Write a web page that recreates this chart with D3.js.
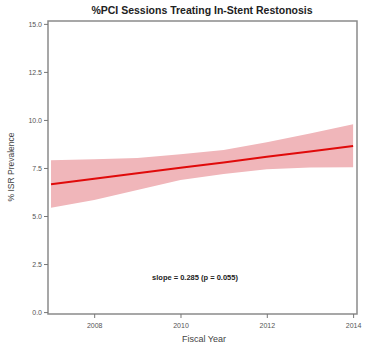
<!DOCTYPE html>
<html><head><meta charset="utf-8">
<script src="https://cdn.jsdelivr.net/npm/d3@7/dist/d3.min.js"></script>
<style>body{margin:0;background:#fff}</style>
</head><body>
<script>
const years = [2007, 2008, 2009, 2010, 2011, 2012, 2013, 2014];
const fitted = [6.65, 6.94, 7.22, 7.51, 7.79, 8.08, 8.36, 8.65];
const upper = [7.90, 7.95, 8.02, 8.21, 8.44, 8.84, 9.30, 9.78];
const lower = [5.43, 5.83, 6.35, 6.88, 7.19, 7.43, 7.52, 7.54];
const yTicks = [0, 2.5, 5, 7.5, 10, 12.5, 15];
const xTicks = [2008, 2010, 2012, 2014];
const title = "%PCI Sessions Treating In-Stent Restonosis";
const xLabel = "Fiscal Year";
const yLabel = "% ISR Prevalence";
const note = "slope = 0.285 (p = 0.055)";

const W = 372, H = 350;
const L = 48, R = 357, T = 21, B = 314;
const svg = d3.select("body").append("svg").attr("width", W).attr("height", H)
  .style("font-family", "Arial, 'Liberation Sans', sans-serif");

const x = d3.scaleLinear().domain([2006.93, 2014.09]).range([L, R]);
const y = d3.scaleLinear().domain([-0.1, 15.15]).range([B, T]);

const data = years.map((yr, i) => ({yr, f: fitted[i], u: upper[i], l: lower[i]}));

svg.append("path").datum(data)
  .attr("d", d3.area().x(d => x(d.yr)).y0(d => y(d.l)).y1(d => y(d.u)))
  .attr("fill", "#f0b6ba");
svg.append("path").datum(data)
  .attr("d", d3.line().x(d => x(d.yr)).y(d => y(d.f)))
  .attr("fill", "none").attr("stroke", "#e00a0a").attr("stroke-width", 2);

svg.append("rect").attr("x", L).attr("y", T).attr("width", R - L).attr("height", B - T)
  .attr("fill", "none").attr("stroke", "#8a8a8a").attr("stroke-width", 1.5);

const ya = svg.append("g").attr("transform", `translate(${L},0)`)
  .call(d3.axisLeft(y).tickValues(yTicks).tickFormat(d3.format(".1f")).tickSize(4).tickPadding(2));
const xa = svg.append("g").attr("transform", `translate(0,${B})`)
  .call(d3.axisBottom(x).tickValues(xTicks).tickFormat(d3.format("d")).tickSize(4).tickPadding(5));
[ya, xa].forEach(g => {
  g.select(".domain").remove();
  g.selectAll("line").attr("stroke", "#777");
  g.selectAll("text").attr("fill", "#555").style("font-size", "7px").style("font-family", "Arial, 'Liberation Sans', sans-serif");
});

svg.append("text").attr("x", 202).attr("y", 14).attr("text-anchor", "middle")
  .style("font-size", "10.5px").style("font-weight", "bold").attr("fill", "#222").text(title);
svg.append("text").attr("x", 204).attr("y", 342).attr("text-anchor", "middle")
  .style("font-size", "9px").attr("fill", "#444").text(xLabel);
svg.append("text").attr("transform", "translate(14,167) rotate(-90)").attr("text-anchor", "middle")
  .style("font-size", "8.5px").attr("fill", "#444").text(yLabel);
svg.append("text").attr("x", 195).attr("y", 280).attr("text-anchor", "middle")
  .style("font-size", "7.5px").style("font-weight", "bold").attr("fill", "#222").text(note);
</script>
</body></html>
